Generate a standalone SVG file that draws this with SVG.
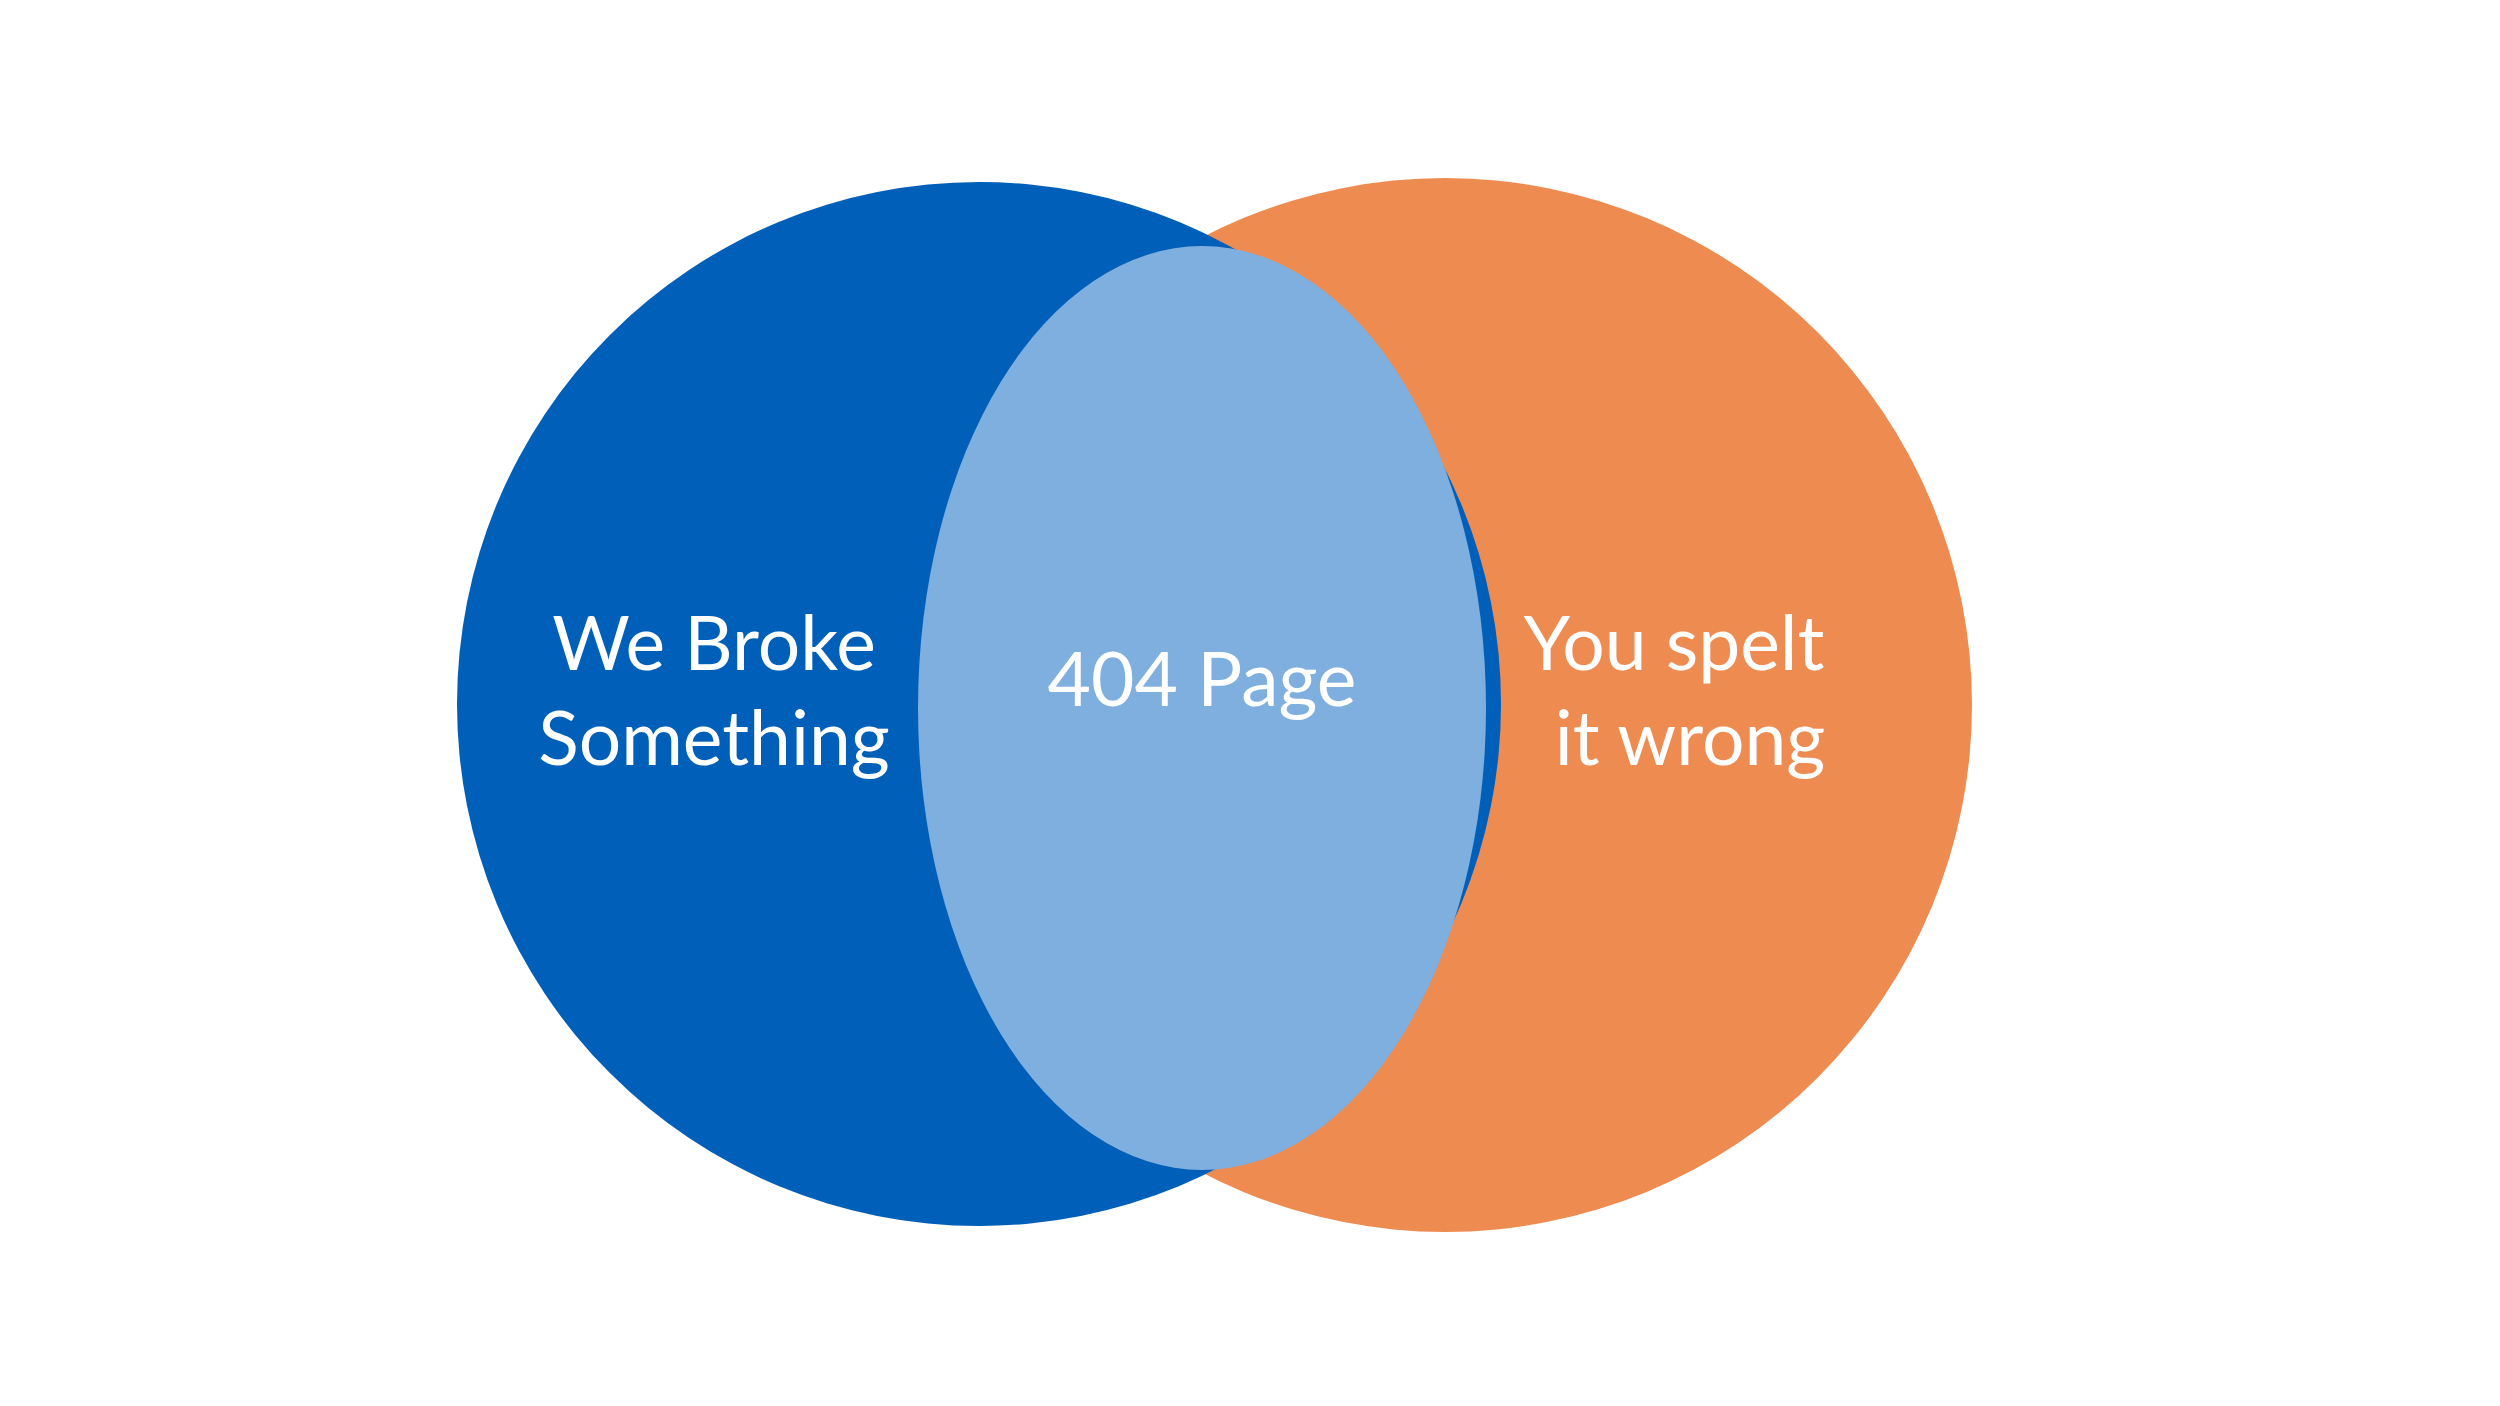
<svg xmlns="http://www.w3.org/2000/svg" width="2500" height="1406" viewBox="0 0 2500 1406">
<style>
text{font-family:Lato,"Open Sans","Liberation Sans",sans-serif;fill:#fff;font-size:75px;text-anchor:middle}
</style>
<rect width="2500" height="1406" fill="#fff"/>
<g id="orange"><circle cx="1445" cy="705" r="527" fill="#EE8B50"/></g>
<g id="blue"><circle cx="979" cy="704" r="522" fill="#005FB8"/></g>
<g id="overlap"><ellipse cx="1202" cy="708" rx="284" ry="462" fill="#7EAFDE"/></g>
<g id="labels">
<text x="714" y="670">We Broke</text>
<text x="714" y="765">Something</text>
<text x="1202" y="706">404 Page</text>
<text x="1674" y="670">You spelt</text>
<text x="1690" y="765">it wrong</text>
</g>
<g id="connectors"/>
</svg>
